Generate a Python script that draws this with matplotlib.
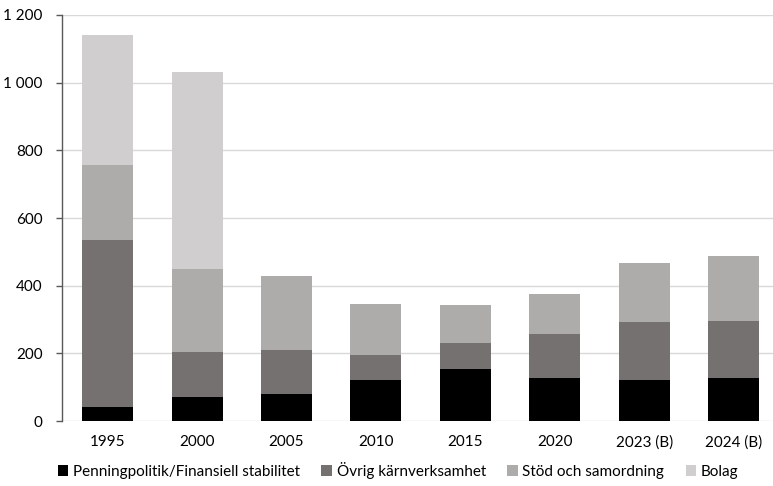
import matplotlib
matplotlib.use("Agg")
import matplotlib.pyplot as plt
from matplotlib.ticker import FuncFormatter, MultipleLocator
from matplotlib.patches import Patch

plt.rcParams['font.family'] = ['Lato', 'DejaVu Sans']

years = ["1995", "2000", "2005", "2010", "2015", "2020", "2023 (B)", "2024 (B)"]
penningpolitik = [41, 71, 81, 120, 153, 127, 120, 126]
ovrig = [493, 133, 130, 74, 79, 130, 174, 170]
stod = [222, 244, 218, 153, 112, 119, 172, 191]
bolag = [385, 584, 0, 0, 0, 0, 0, 0]

series_names = ["Penningpolitik/Finansiell stabilitet", "Övrig kärnverksamhet",
                "Stöd och samordning", "Bolag"]
colors = ["#000000", "#767171", "#AEABAB", "#D0CECE"]

fig = plt.figure(figsize=(7.73, 4.86), dpi=100)
ax = fig.add_axes([62 / 773, 1 - 421 / 486, (773 - 62) / 773, (421 - 15) / 486])

x = list(range(len(years)))
bottom = [0] * len(years)
for vals, col in zip([penningpolitik, ovrig, stod, bolag], colors):
    ax.bar(x, vals, bottom=bottom, width=0.57, color=col, zorder=3)
    bottom = [b + v for b, v in zip(bottom, vals)]

ax.set_ylim(0, 1200)
ax.set_xlim(-0.51, 7.44)
ax.yaxis.set_major_locator(MultipleLocator(200))
ax.yaxis.set_major_formatter(FuncFormatter(lambda v, p: f"{int(v):,}".replace(",", " ")))
ax.grid(axis='y', color="#D9D9D9", linewidth=1, zorder=0)
ax.set_axisbelow(True)

for s in ['top', 'right', 'bottom']:
    ax.spines[s].set_visible(False)
ax.spines['left'].set_color("#595959")
ax.spines['left'].set_linewidth(1)

ax.set_xticks(x)
ax.set_xticklabels(years)
ax.tick_params(axis='x', length=0, pad=10, labelsize=11, colors="#000000")
ax.tick_params(axis='y', length=4, width=1, color="#595959", pad=10, labelsize=11)

handles = [Patch(facecolor=c, edgecolor='none') for c in colors]
fig.legend(handles, series_names, loc='center', bbox_to_anchor=(0.515, 1 - 470 / 486),
           ncol=4, frameon=False, fontsize=11, handlelength=0.7, handleheight=0.7,
           handletextpad=0.3, columnspacing=1.4)

fig.savefig("out.png", dpi=100)
